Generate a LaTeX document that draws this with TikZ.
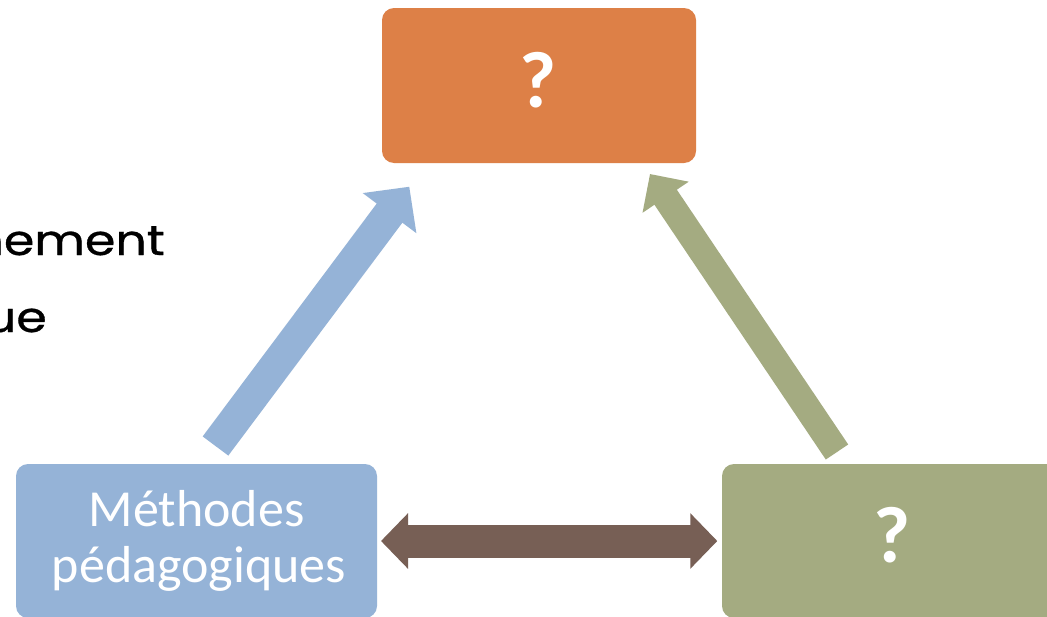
\documentclass[tikz,border=0pt]{standalone}
\usepackage{fontspec}
\setmainfont{Carlito}
\newfontfamily\geofont[FakeBold=0.7]{Poppins}
\usetikzlibrary{arrows.meta}
\definecolor{boxorange}{HTML}{DD8047}
\definecolor{boxblue}{HTML}{95B3D7}
\definecolor{boxgreen}{HTML}{A4AB81}
\definecolor{arrbrown}{HTML}{775F55}
\tikzset{
  boxnode/.style={rectangle, rounded corners=12pt, inner sep=0pt},
  lbl/.style={text=white, inner sep=0pt, font=\fontsize{52}{56}\selectfont},
  qmark/.style={text=white, inner sep=0pt, font=\fontsize{80}{90}\selectfont\bfseries},
  bgtext/.style={text=black, inner sep=0pt, xscale=1.17, font=\geofont\fontsize{42}{50}\selectfont},
  bigarrow/.style={line cap=butt},
}
\begin{document}
\begin{tikzpicture}[x=1pt,y=-1pt]
\clip (0,0) rectangle (1047,616);
\fill[white] (0,0) rectangle (1047,616);
% background text cut off at the left
\node[bgtext, anchor=base east] (t1) at (165,255) {hement};
\node[bgtext, anchor=base east] (t2) at (47,332) {ue};
% boxes
\node[boxnode, fill=boxorange, minimum width=314pt, minimum height=155pt] (top) at (539,85.5) {};
\node[boxnode, fill=boxblue, minimum width=361pt, minimum height=154pt] (left) at (196.5,541) {};
\node[boxnode, fill=boxgreen, minimum width=340pt, minimum height=154pt] (right) at (892,541) {};
% labels
\node[qmark, anchor=base] (q1) at (538,107) {?};
\node[lbl, anchor=base] (m1) at (196.5,526) {Méthodes};
\node[lbl, anchor=base] (m2) at (199,582) {pédagogiques};
\node[qmark, anchor=base] (q2) at (892,562) {?};
% arrow end points
\coordinate (bTail) at (215.5,446);
\coordinate (bTip) at (409.3,186.7);
\coordinate (gTail) at (837,452);
\coordinate (gTip) at (650,174);
\coordinate (hL) at (381,541);
\coordinate (hR) at (717.3,541);
% arrows
\draw[bigarrow, draw=boxblue, fill=boxblue, line width=32pt,
  -{Triangle[length=33pt,width=65pt]}] (bTail) -- (bTip);
\draw[bigarrow, draw=boxgreen, fill=boxgreen, line width=27pt,
  -{Triangle[length=28pt,width=54pt]}] (gTail) -- (gTip);
\draw[bigarrow, draw=arrbrown, fill=arrbrown, line width=33pt,
  {Triangle[length=27pt,width=54pt]}-{Triangle[length=27pt,width=54pt]}] (hL) -- (hR);
\end{tikzpicture}
\end{document}
